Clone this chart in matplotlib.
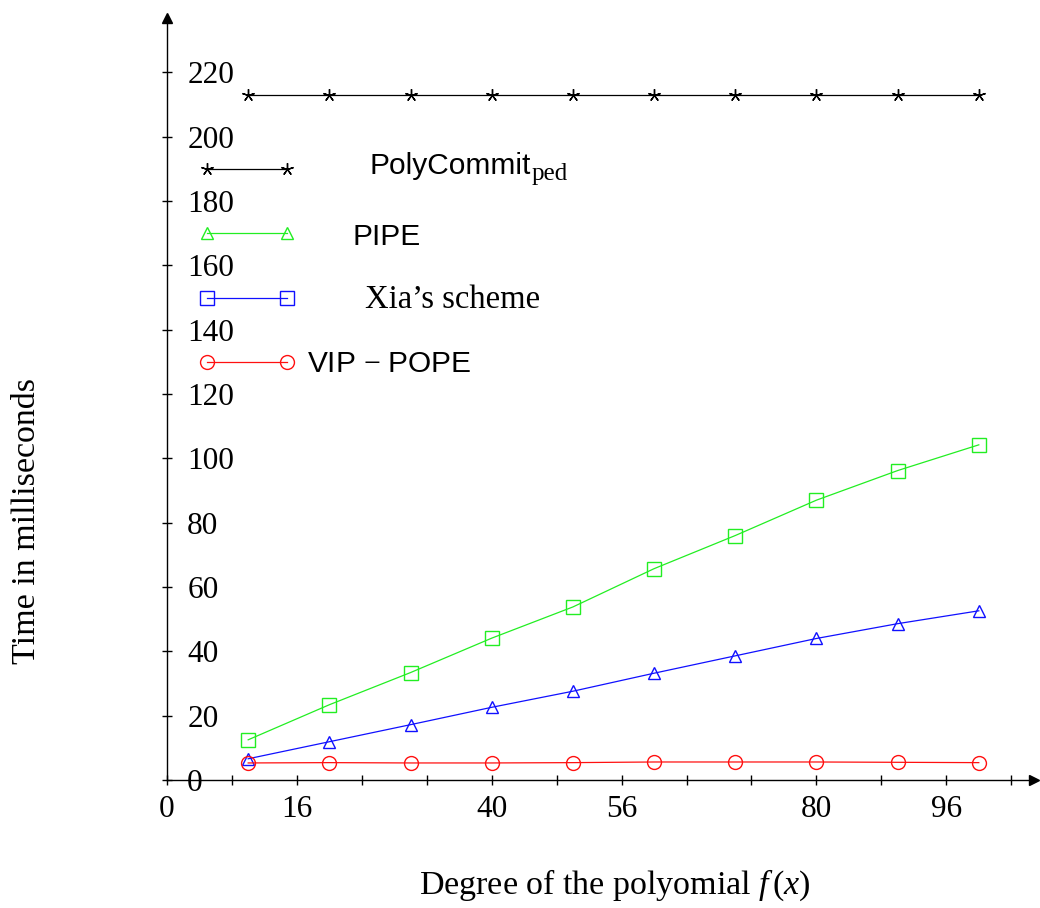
import matplotlib
matplotlib.use("Agg")
import matplotlib.pyplot as plt
from matplotlib.lines import Line2D

# ---------------- data ----------------
degrees = [10, 20, 30, 40, 50, 60, 70, 80, 90, 100]
polycommit_ped = [213, 213, 213, 213, 213, 213, 213, 213, 213, 213]
pipe = [12.5, 23.4, 33.4, 44.1, 53.8, 65.7, 76.0, 87.0, 96.2, 104.2]
xia_scheme = [6.6, 11.9, 17.2, 22.6, 27.6, 33.2, 38.6, 44.0, 48.6, 52.6]
vip_pope = [5.3, 5.4, 5.3, 5.3, 5.4, 5.6, 5.6, 5.6, 5.5, 5.4]

xtick_positions = [0, 8, 16, 24, 32, 40, 48, 56, 64, 72, 80, 88, 96, 104]
xtick_labels = ["0", "", "16", "", "", "40", "", "56", "", "", "80", "", "96", ""]
ytick_positions = [0, 20, 40, 60, 80, 100, 120, 140, 160, 180, 200, 220]
ytick_labels = [str(v) for v in ytick_positions]

legend_labels = ["PolyCommit", "PIPE", "Xia\u2019s scheme", r"$\mathsf{VIP}\,-\,\mathsf{POPE}$"]
legend_subscripts = ["ped", "", "", ""]
legend_fonts = ["Liberation Sans", "Liberation Sans", "Liberation Serif", "Liberation Serif"]

# ---------------- style ----------------
plt.rcParams["font.family"] = ["Liberation Serif", "DejaVu Serif"]
plt.rcParams["mathtext.fontset"] = "custom"
plt.rcParams["mathtext.rm"] = "Liberation Serif"
plt.rcParams["mathtext.it"] = "Liberation Serif:italic"
plt.rcParams["mathtext.sf"] = "Liberation Sans"

GREEN = "#22ee22"
BLUE = "#1010ff"
RED = "#ff1010"

fig = plt.figure(figsize=(10.4, 9.08), dpi=100)
ax = fig.add_axes([167 / 1040, 128 / 908, 867 / 1040, 762 / 908])

lw = 0.9
mew = 1.0
ax.plot(degrees, polycommit_ped, color="black", lw=lw, marker=(5, 2, 0), ms=9, mew=mew, clip_on=False)
ax.plot(degrees, pipe, color=GREEN, lw=lw, marker="s", ms=10, mfc="none", mew=mew, clip_on=False)
ax.plot(degrees, xia_scheme, color=BLUE, lw=lw, marker="^", ms=9, mfc="none", mew=mew, clip_on=False)
ax.plot(degrees, vip_pope, color=RED, lw=lw, marker="o", ms=10, mfc="none", mew=mew, clip_on=False)

ax.set_xlim(0, 106.8)
ax.set_ylim(0, 236.9)

for s in ["top", "right"]:
    ax.spines[s].set_visible(False)
for s in ["left", "bottom"]:
    ax.spines[s].set_linewidth(1.0)

# arrow heads
ax.plot(1, 0, ">k", ms=7, transform=ax.get_yaxis_transform(), clip_on=False)
ax.plot(0, 1, "^k", ms=7, transform=ax.get_xaxis_transform(), clip_on=False)

ax.set_xticks(xtick_positions)
ax.set_xticklabels(xtick_labels)
ax.set_yticks(ytick_positions)
ax.set_yticklabels(ytick_labels)
ax.tick_params(direction="inout", length=7, width=1.0, labelsize=22.5)
ax.tick_params(axis="x", pad=7)
ax.tick_params(axis="y", pad=-18)
for lab in ax.get_yticklabels():
    lab.set_horizontalalignment("left")

ax.set_xlabel(r"Degree of the polyomial $f\,(x)$", fontsize=24.5)
ax.xaxis.set_label_coords(0.517, -0.138)
ax.xaxis.label.set_va("center")
ax.set_ylabel("Time in milliseconds", fontsize=24.5)
ax.yaxis.set_label_coords(-0.1615, 0.34)
ax.yaxis.label.set_va("center")

# ---------------- legend (drawn as in the reference) ----------------
leg_styles = [
    dict(color="black", marker=(5, 2, 0), ms=9, mfc="black"),
    dict(color=GREEN, marker="^", ms=9, mfc="none"),
    dict(color=BLUE, marker="s", ms=10, mfc="none"),
    dict(color=RED, marker="o", ms=10, mfc="none"),
]
leg_line_y = [0.8014, 0.7178, 0.633, 0.549]
leg_text_x = [0.234, 0.214, 0.228, 0.161]
leg_text_y = [0.795, 0.702, 0.619, 0.536]
for st, ly, tx, ty, lab, sub, fam in zip(leg_styles, leg_line_y, leg_text_x, leg_text_y,
                                         legend_labels, legend_subscripts, legend_fonts):
    ln = Line2D([0.0458, 0.138], [ly, ly], transform=ax.transAxes, lw=lw, mew=mew,
                clip_on=False, **st)
    ax.add_line(ln)
    fs = 23.5 if "Xia" in lab else 21.5
    t = ax.text(tx, ty, lab, transform=ax.transAxes, ha="left", va="baseline",
                fontsize=fs, family=[fam, "DejaVu Sans"])
    if sub:
        ax.annotate(sub, xy=(1, 0), xycoords=t, xytext=(0.5, 0), textcoords="offset points",
                    ha="left", va="baseline", fontsize=18, family=["Liberation Serif"])

fig.savefig("out.png", dpi=100)
